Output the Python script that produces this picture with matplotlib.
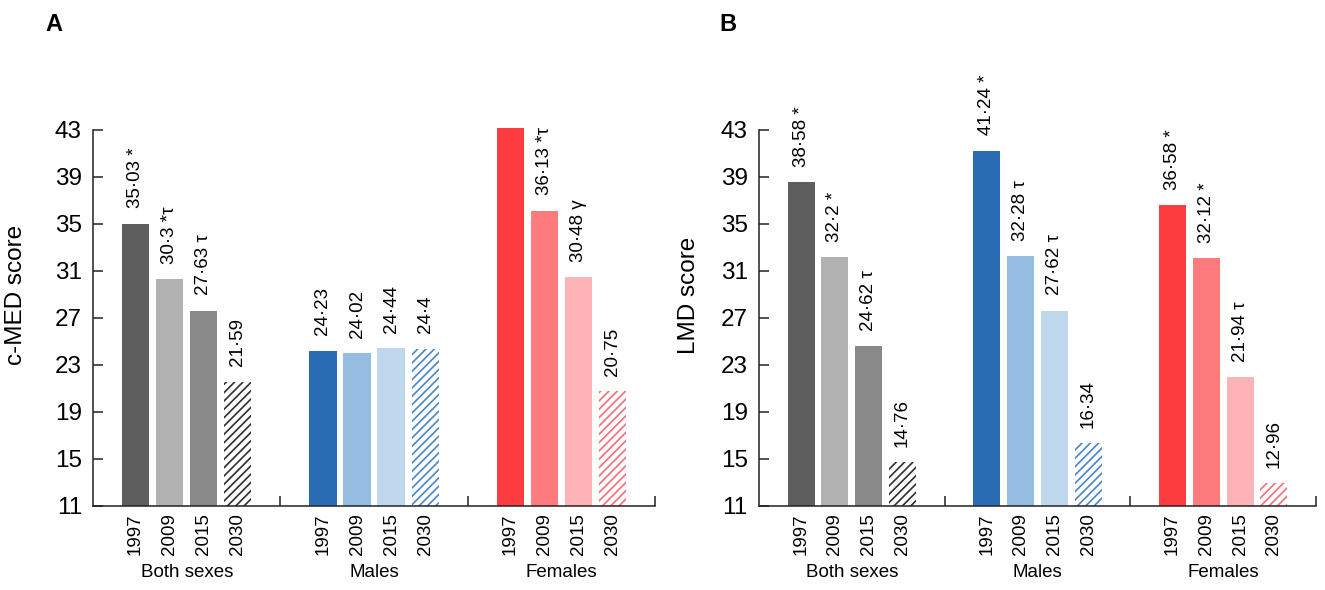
import matplotlib
matplotlib.use("Agg")
import matplotlib.pyplot as plt
import matplotlib.transforms as mtransforms

plt.rcParams["font.family"] = ["Liberation Sans", "DejaVu Sans"]
plt.rcParams["hatch.linewidth"] = 1.2

groups = ["Both sexes", "Males", "Females"]
years = ["1997", "2009", "2015", "2030"]

# panel A: c-MED score
cmed_both = [35.03, 30.3, 27.63, 21.59]
cmed_males = [24.23, 24.02, 24.44, 24.4]
cmed_females = [43.19, 36.13, 30.48, 20.75]
cmed_marks = [["*", "*τ", "τ", ""], ["", "", "", ""], ["*", "*τ", "γ", ""]]

# panel B: LMD score
lmd_both = [38.58, 32.2, 24.62, 14.76]
lmd_males = [41.24, 32.28, 27.62, 16.34]
lmd_females = [36.58, 32.12, 21.94, 12.96]
lmd_marks = [["*", "*", "τ", ""], ["*", "τ", "τ", ""], ["*", "*", "τ", ""]]

yticks = [11, 15, 19, 23, 27, 31, 35, 39, 43]

group_colors = [
    ["#5e5e5e", "#b2b2b2", "#898989", "#2e2e2e"],
    ["#2b6db4", "#95bde2", "#c0d8ee", "#4a86c8"],
    ["#fd3c40", "#fd7b7d", "#feb4b6", "#f56e78"],
]

GROUP_W = 5.5
AXIS_COLOR = "#222222"


def plot_panel(ax, series, marks, ylabel, label_x):
    xpos = []
    xlab = []
    for g, vals in enumerate(series):
        for i, v in enumerate(vals):
            x = GROUP_W * g + 1.25 + i
            xpos.append(x)
            xlab.append(years[i])
            col = group_colors[g][i]
            if i == 3:
                ax.bar(x, v - 11, bottom=11, width=0.8, facecolor="white",
                       edgecolor=col, hatch="////", linewidth=0, clip_on=False)
            else:
                ax.bar(x, v - 11, bottom=11, width=0.8, color=col,
                       linewidth=0, clip_on=False)
            txt = str(v).replace(".", "·")
            if marks[g][i]:
                txt += " " + marks[g][i]
            ax.annotate(txt, xy=(x, v), xytext=(0, 11), textcoords="offset points",
                        rotation=90, ha="center", va="bottom", fontsize=13.5)

    ax.set_xlim(0, GROUP_W * len(series))
    ax.set_ylim(11, 43)
    ax.set_yticks(yticks)
    ax.set_xticks(xpos)
    ax.set_xticklabels(xlab, rotation=90, fontsize=13.5)
    ax.set_xticks([GROUP_W * (g + 1) for g in range(len(series))], minor=True)
    ax.tick_params(axis="x", which="major", length=0, pad=5)
    ax.tick_params(axis="x", which="minor", direction="in", length=7,
                   width=1.1, color=AXIS_COLOR)
    ax.tick_params(axis="y", direction="in", length=7.5, width=1.1,
                   labelsize=17.5, pad=8, color=AXIS_COLOR)

    for side in ["top", "right"]:
        ax.spines[side].set_visible(False)
    for side in ["left", "bottom"]:
        ax.spines[side].set_linewidth(1.1)
        ax.spines[side].set_color(AXIS_COLOR)

    ax.set_ylabel(ylabel, fontsize=17.5)
    ax.yaxis.set_label_coords(label_x, 0.56)

    trans = mtransforms.blended_transform_factory(ax.transData, ax.transAxes)
    for g, name in enumerate(groups):
        ax.text(GROUP_W * g + 2.75, -0.178, name, transform=trans,
                ha="center", va="center", fontsize=13.5)


fig = plt.figure(figsize=(13.25, 5.9), dpi=100)
ax_a = fig.add_axes([0.0702, 0.1424, 0.4242, 0.6373])
ax_b = fig.add_axes([0.5728, 0.1424, 0.4204, 0.6373])

plot_panel(ax_a, [cmed_both, cmed_males, cmed_females], cmed_marks,
           "c-MED score", -0.117)
plot_panel(ax_b, [lmd_both, lmd_males, lmd_females], lmd_marks,
           "LMD score", -0.106)

fig.text(0.034, 0.958, "A", fontsize=17, fontweight="bold", va="center")
fig.text(0.543, 0.958, "B", fontsize=17, fontweight="bold", va="center")

fig.savefig("out.png", dpi=100)
